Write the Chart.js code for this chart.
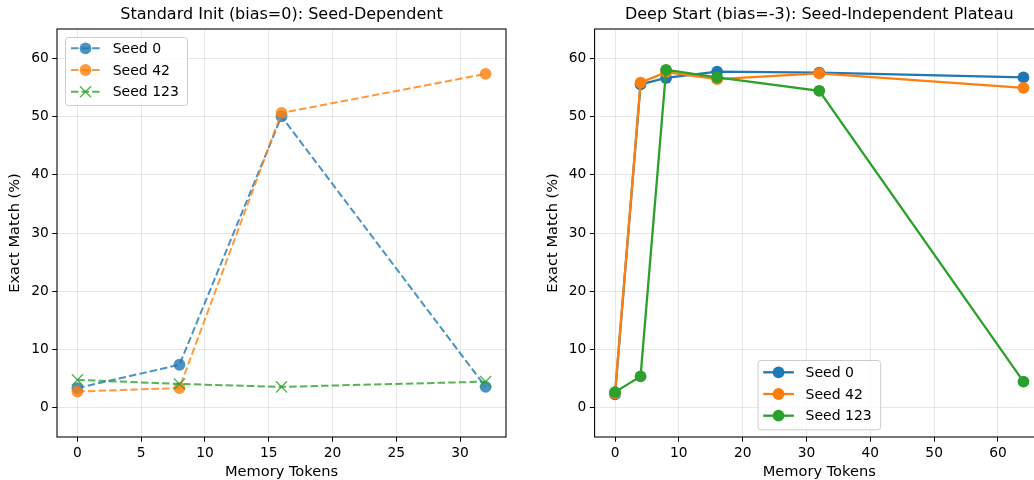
<!DOCTYPE html>
<html>
<head>
<meta charset="utf-8">
<script src="https://cdn.jsdelivr.net/npm/chart.js@4.4.1/dist/chart.umd.min.js"></script>
<style>
  html, body { margin: 0; padding: 0; width: 1034px; height: 480px; overflow: hidden; background: #fff; }
  canvas { position: absolute; top: 0; }
  #left { left: 0; }
  #right { left: 520px; }
</style>
</head>
<body>
<canvas id="left" width="517" height="490" style="width:517px;height:490px"></canvas>
<canvas id="right" width="530" height="490" style="width:530px;height:490px"></canvas>
<script>
// ---- Data ----
const leftTokens = [0, 8, 16, 32];
const leftSeed0 = [3.4, 7.4, 50.0, 3.6];
const leftSeed42 = [2.8, 3.4, 50.6, 57.3];
const leftSeed123 = [4.8, 4.1, 3.6, 4.5];

const rightTokens = [0, 4, 8, 16, 32, 64];
const rightSeed0 = [2.3, 55.5, 56.6, 57.7, 57.5, 56.7];
const rightSeed42 = [2.5, 55.8, 57.6, 56.4, 57.4, 54.9];
const rightSeed123 = [2.7, 5.4, 58.0, 56.7, 54.4, 4.5];

const seedNames = ['Seed 0', 'Seed 42', 'Seed 123'];
const leftXTicks = [0, 5, 10, 15, 20, 25, 30];
const rightXTicks = [0, 10, 20, 30, 40, 50, 60];
const yTicks = [0, 10, 20, 30, 40, 50, 60];
const leftTitle = 'Standard Init (bias=0): Seed-Dependent';
const rightTitle = 'Deep Start (bias=-3): Seed-Independent Plateau';
const xLabel = 'Memory Tokens';
const yLabel = 'Exact Match (%)';

// ---- Styling ----
const FONT = '"DejaVu Sans", sans-serif';
const TICK_SIZE = 13.8, LABEL_SIZE = 14.6, LEGEND_SIZE = 14, TITLE_SIZE = 16;
Chart.defaults.color = '#000';
Chart.defaults.font.family = FONT;
Chart.defaults.font.size = TICK_SIZE;

const C = {
  blue: [31, 119, 180], orange: [255, 127, 14], green: [44, 160, 44]
};
const rgba = (c, a) => `rgba(${c[0]},${c[1]},${c[2]},${a})`;

function pts(xs, ys) { return xs.map((x, i) => ({ x, y: ys[i] })); }

function drawMarker(ctx, style, x, y, r, color, bw) {
  ctx.save();
  if (style === 'crossRot') {
    const d = r * Math.SQRT1_2;
    ctx.strokeStyle = color; ctx.lineWidth = bw; ctx.setLineDash([]);
    ctx.beginPath();
    ctx.moveTo(x - d, y - d); ctx.lineTo(x + d, y + d);
    ctx.moveTo(x - d, y + d); ctx.lineTo(x + d, y - d);
    ctx.stroke();
  } else {
    ctx.fillStyle = color;
    ctx.beginPath(); ctx.arc(x, y, r, 0, Math.PI * 2); ctx.fill();
  }
  ctx.restore();
}

const decor = {
  id: 'decor',
  afterDraw(chart, args, opts) {
    const { ctx, chartArea: a } = chart;
    ctx.save();
    // spines
    ctx.strokeStyle = '#000'; ctx.lineWidth = 1.07; ctx.setLineDash([]);
    ctx.strokeRect(a.left, a.top, a.right - a.left, a.bottom - a.top);
    // title
    ctx.fillStyle = '#000';
    ctx.font = TITLE_SIZE + 'px ' + FONT;
    ctx.textAlign = 'center'; ctx.textBaseline = 'middle';
    ctx.fillText(opts.title, (a.left + a.right) / 2, 15);
    // legend
    const L = opts.legend;
    const bx = a.left + L.dx;
    const by = L.fromBottom ? a.bottom - L.dy - L.h : a.top + L.dy;
    ctx.beginPath();
    ctx.roundRect(bx + 0.5, by + 0.5, L.w, L.h, 3);
    ctx.fillStyle = 'rgba(255,255,255,0.8)'; ctx.fill();
    ctx.strokeStyle = '#cccccc'; ctx.lineWidth = 1; ctx.stroke();
    ctx.font = LEGEND_SIZE + 'px ' + FONT;
    ctx.textAlign = 'left'; ctx.textBaseline = 'middle';
    chart.data.datasets.forEach((ds, i) => {
      const y = by + L.rows[i];
      ctx.save();
      ctx.strokeStyle = ds.borderColor; ctx.lineWidth = ds.borderWidth;
      ctx.setLineDash(ds.borderDash || []);
      ctx.beginPath();
      ctx.moveTo(bx + L.lx0, y); ctx.lineTo(bx + L.lx1, y); ctx.stroke();
      ctx.restore();
      drawMarker(ctx, ds.pointStyle, bx + (L.lx0 + L.lx1) / 2, y, ds.pointRadius,
        ds.pointStyle === 'crossRot' ? ds.pointBorderColor : ds.pointBackgroundColor, ds.pointBorderWidth);
      ctx.fillStyle = '#000';
      ctx.fillText(ds.label, bx + L.tx, y + 1);
    });
    ctx.restore();
  }
};

function makeScales(xmin, xmax, xTicks, yAxisWidth, yTitlePad) {
  const grid = { color: 'rgba(176,176,176,0.3)', lineWidth: 1, tickColor: '#000', tickLength: 4.7, tickWidth: 1 };
  return {
    x: {
      type: 'linear', min: xmin, max: xmax,
      afterBuildTicks: s => { s.ticks = xTicks.map(v => ({ value: v })); },
      afterFit: s => { s.height = 53; },
      grid: grid, border: { display: false },
      ticks: { padding: 3.2, font: { size: TICK_SIZE }, color: '#000', maxRotation: 0 },
      title: { display: true, text: xLabel, font: { size: LABEL_SIZE }, padding: { top: 0, bottom: 9.2 }, color: '#000' }
    },
    y: {
      type: 'linear', min: -5, max: 65,
      afterBuildTicks: s => { s.ticks = yTicks.map(v => ({ value: v })); },
      afterFit: s => { s.width = yAxisWidth; },
      grid: grid, border: { display: false },
      ticks: { padding: 3.5, font: { size: TICK_SIZE }, color: '#000' },
      title: { display: true, text: yLabel, font: { size: LABEL_SIZE }, padding: { top: yTitlePad, bottom: 0 }, color: '#000' }
    }
  };
}

function ds(label, xs, ys, color, alpha, opts) {
  return Object.assign({
    label, data: pts(xs, ys),
    borderColor: rgba(color, alpha), backgroundColor: rgba(color, alpha),
    pointBackgroundColor: rgba(color, alpha), pointBorderColor: rgba(color, alpha),
    pointStyle: 'circle', pointBorderWidth: 0, tension: 0, fill: false
  }, opts);
}

// Left chart
const dashed = { borderWidth: 2, borderDash: [7.4, 3.2], pointRadius: 5.9 };
new Chart(document.getElementById('left'), {
  type: 'line',
  data: {
    datasets: [
      ds(seedNames[0], leftTokens, leftSeed0, C.blue, 0.8, Object.assign({ order: 3 }, dashed)),
      ds(seedNames[1], leftTokens, leftSeed42, C.orange, 0.8, Object.assign({ order: 2 }, dashed)),
      ds(seedNames[2], leftTokens, leftSeed123, C.green, 0.8, Object.assign({ order: 1 }, dashed, { pointStyle: 'crossRot', pointRadius: 7.8, pointBorderWidth: 1.4 }))
    ]
  },
  options: {
    responsive: false, animation: false, devicePixelRatio: 1,
    layout: { padding: { top: 29, right: 11, left: 0, bottom: 0 } },
    plugins: {
      legend: { display: false }, tooltip: { enabled: false },
      decor: { title: leftTitle, legend: { dx: 8, dy: 8, fromBottom: false, w: 122, h: 68, rows: [11.3, 33, 54.7], lx0: 6, lx1: 35, tx: 47.7 } }
    },
    scales: makeScales(-1.6, 33.6, leftXTicks, 57, 6.2)
  },
  plugins: [decor]
});

// Right chart
const solid = { borderWidth: 2.3, pointRadius: 5.9 };
new Chart(document.getElementById('right'), {
  type: 'line',
  data: {
    datasets: [
      ds(seedNames[0], rightTokens, rightSeed0, C.blue, 1, Object.assign({ order: 3 }, solid)),
      ds(seedNames[1], rightTokens, rightSeed42, C.orange, 1, Object.assign({ order: 2 }, solid)),
      ds(seedNames[2], rightTokens, rightSeed123, C.green, 1, Object.assign({ order: 1 }, solid))
    ]
  },
  options: {
    responsive: false, animation: false, devicePixelRatio: 1,
    layout: { padding: { top: 29, right: 6.1, left: 0, bottom: 0 } },
    plugins: {
      legend: { display: false }, tooltip: { enabled: false },
      decor: { title: rightTitle, legend: { dx: 163, dy: 7.7, fromBottom: true, w: 122.6, h: 69.3, rows: [12.3, 34, 55.7], lx0: 5.6, lx1: 36.3, tx: 48 } }
    },
    scales: makeScales(-3.2, 67.2, rightXTicks, 74.6, 24.5)
  },
  plugins: [decor]
});
</script>
</body>
</html>
